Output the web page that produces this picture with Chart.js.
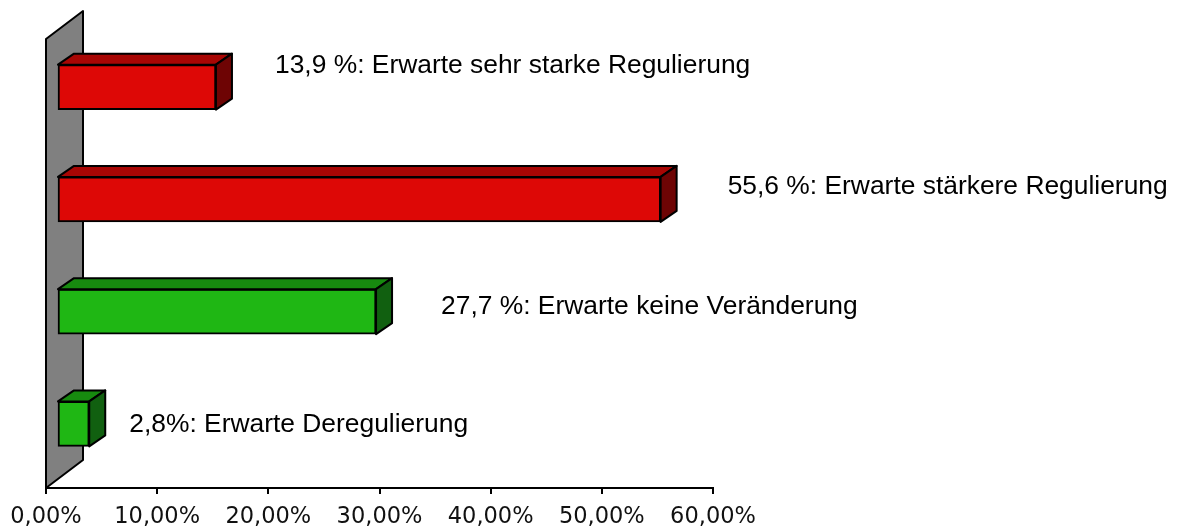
<!DOCTYPE html>
<html>
<head>
<meta charset="utf-8">
<script src="https://cdn.jsdelivr.net/npm/chart.js@4.4.0/dist/chart.umd.min.js"></script>
<style>
  html, body { margin: 0; padding: 0; background: #fff; }
</style>
</head>
<body>
<canvas id="chart" width="1187" height="527"></canvas>
<script>
// categories, top to bottom
const categories = ['Erwarte sehr starke Regulierung', 'Erwarte stärkere Regulierung',
  'Erwarte keine Veränderung', 'Erwarte Deregulierung']
// bar lengths as drawn in the picture (percent)
const barValues = [14.3, 54.3, 28.7, 2.9]
// data label texts as printed next to the bars
const labelTexts = ['13,9 %: Erwarte sehr starke Regulierung', '55,6 %: Erwarte stärkere Regulierung',
  '27,7 %: Erwarte keine Veränderung', '2,8%: Erwarte Deregulierung']
const xTicks = [0, 10, 20, 30, 40, 50, 60]

const frontColors = ['#dd0806', '#dd0806', '#1fb714', '#1fb714']
const topColors = ['#a80604', '#a80604', '#178a0f', '#178a0f']
const sideColors = ['#6e0404', '#6e0404', '#116010', '#116010']

// 3d offsets (px)
const WALL_DX = 37, WALL_DY = -28
const DEPTH_X = 11, DEPTH_Y = -8
const BAR_DX = 16, BAR_DY = -11
// label placement relative to the bar's front right edge / centre
const labelOffsets = [[59, -14.5], [67, -5.5], [65, 2.3], [40, 8.5]]

function face (ctx, pts, color) {
  ctx.beginPath()
  pts.forEach((p, i) => i ? ctx.lineTo(p[0], p[1]) : ctx.moveTo(p[0], p[1]))
  ctx.closePath()
  ctx.fillStyle = color
  ctx.fill()
  ctx.lineWidth = 2
  ctx.lineJoin = 'round'
  ctx.strokeStyle = '#000'
  ctx.stroke()
}

const bar3d = {
  id: 'bar3d',
  beforeDatasetsDraw (chart) {
    const { ctx, chartArea: a } = chart
    ctx.save()
    face(ctx, [[a.left, a.bottom], [a.left, a.top], [a.left + WALL_DX, a.top + WALL_DY],
      [a.left + WALL_DX, a.bottom + WALL_DY]], '#808080')
    ctx.restore()
    // bars sit a bit behind the front plane
    ctx.save()
    ctx.translate(DEPTH_X, DEPTH_Y)
  },
  afterDatasetsDraw (chart) {
    const { ctx } = chart
    const bars = chart.getDatasetMeta(0).data
    bars.forEach((bar, i) => {
      const { x, y, base, height } = bar.getProps(['x', 'y', 'base', 'height'], true)
      const top = y - height / 2, bottom = y + height / 2
      face(ctx, [[base, top], [base + BAR_DX, top + BAR_DY], [x + BAR_DX, top + BAR_DY], [x, top]], topColors[i])
      face(ctx, [[x, top], [x + BAR_DX, top + BAR_DY], [x + BAR_DX, bottom + BAR_DY], [x, bottom]], sideColors[i])
    })
    ctx.restore()

    ctx.save()
    ctx.font = '26.4px "Liberation Sans", Arial, sans-serif'
    ctx.fillStyle = '#000'
    ctx.textAlign = 'left'
    ctx.textBaseline = 'alphabetic'
    bars.forEach((bar, i) => {
      const { x, y } = bar.getProps(['x', 'y'], true)
      ctx.fillText(labelTexts[i], x + DEPTH_X + labelOffsets[i][0], y + DEPTH_Y + labelOffsets[i][1])
    })
    ctx.restore()
  }
}

new Chart(document.getElementById('chart'), {
  type: 'bar',
  data: {
    labels: categories,
    datasets: [{
      data: barValues,
      backgroundColor: frontColors,
      borderColor: '#000',
      borderWidth: 2,
      borderSkipped: false,
      barThickness: 45
    }]
  },
  options: {
    indexAxis: 'y',
    responsive: false,
    animation: false,
    devicePixelRatio: 1,
    layout: { padding: { left: 46, right: 474, top: 39, bottom: 0 } },
    plugins: {
      legend: { display: false },
      tooltip: { enabled: false }
    },
    scales: {
      x: {
        min: 0,
        max: 60,
        afterBuildTicks: (s) => { s.ticks = xTicks.map(v => ({ value: v })) },
        afterFit: (s) => { s.height = 39 },
        ticks: {
          autoSkip: false,
          maxRotation: 0,
          padding: 10,
          color: '#111',
          font: { family: 'DejaVu Sans', size: 22.5 },
          callback: (v) => v.toFixed(2).replace('.', ',') + '%'
        },
        grid: { drawOnChartArea: false, color: '#000', lineWidth: 2, tickLength: 6 },
        border: { color: '#000', width: 2 }
      },
      y: { display: false }
    }
  },
  plugins: [bar3d]
})
</script>
</body>
</html>
